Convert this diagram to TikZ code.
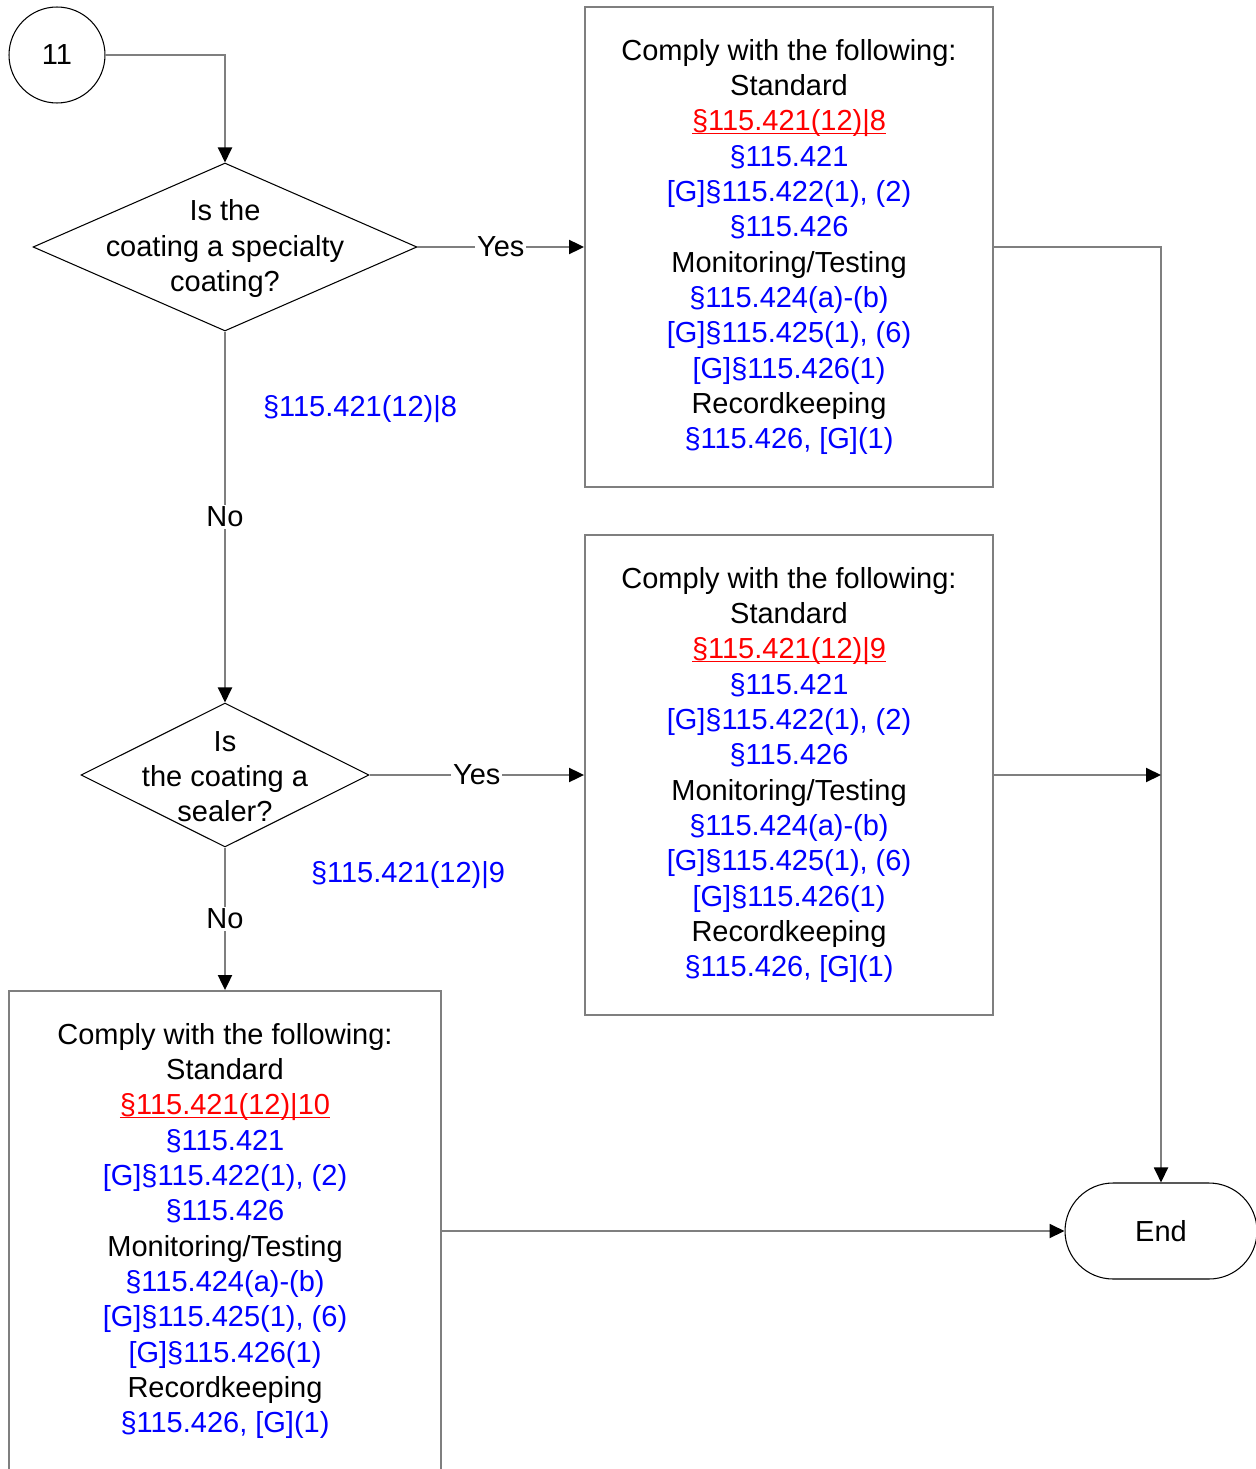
\documentclass[tikz,border=0pt]{standalone}
\usepackage{fontspec}
\setmainfont{Liberation Sans}
\usetikzlibrary{shapes,arrows.meta,positioning}
\definecolor{linegray}{HTML}{7F7F7F}
\definecolor{refblue}{HTML}{0000FF}
\definecolor{refred}{HTML}{FF0000}
\newcommand{\refb}[1]{\textcolor{refblue}{#1}}
\newcommand{\refr}[1]{\textcolor{refred}{\setbox0\hbox{#1}\rlap{\rule[-2pt]{\wd0}{0.9pt}}\box0}}
\newcommand{\stdlist}[1]{Comply with the following:\\Standard\\\refr{#1}\\\refb{§115.421}\\\refb{[G]§115.422(1), (2)}\\\refb{§115.426}\\Monitoring/Testing\\\refb{§115.424(a)-(b)}\\\refb{[G]§115.425(1), (6)}\\\refb{[G]§115.426(1)}\\Recordkeeping\\\refb{§115.426, [G](1)}}

\begin{document}
\begin{tikzpicture}[x=0.02cm,y=-0.02cm,
  every node/.style={font=\fontsize{16.5}{20.1}\selectfont},
  box/.style={rectangle,draw=linegray,line width=1.1pt,align=center,minimum height=9.6cm},
  decision/.style={diamond,draw,line width=0.6pt,inner sep=0pt},
  conn/.style={draw=linegray,line width=1.1pt,-{Triangle[length=0.3cm,width=0.28cm,color=black]}},
  lbl/.style={fill=white,inner sep=1pt}]
\useasboundingbox (0,0) rectangle (1255,1469);

\node[circle,draw,line width=0.6pt,minimum size=1.92cm] at (57,55) (start) {11};
\node[decision,minimum width=7.68cm,minimum height=3.36cm,label={[align=center,yshift=-1pt]center:{Is the\\coating a specialty\\coating?}}] at (225,247) (q1) {};
\node[decision,minimum width=5.76cm,minimum height=2.88cm,label={[align=center,yshift=-1pt]center:{Is\\the coating a\\sealer?}}] at (225,775) (q2) {};
\node[box,minimum width=8.16cm] at (789,247) (std1) {\stdlist{§115.421(12)|8}};
\node[box,minimum width=8.16cm] at (789,775) (std2) {\stdlist{§115.421(12)|9}};
\node[box,minimum width=8.64cm] at (225,1231) (std3) {\stdlist{§115.421(12)|10}};
\node[rectangle,rounded corners=0.96cm,draw,line width=0.6pt,minimum width=3.84cm,minimum height=1.92cm] at (1161,1231) (end) {End};
\node[text=refblue] at (360,409) (cite1) {§115.421(12)|8};
\node[text=refblue] at (408,875) (cite2) {§115.421(12)|9};
\coordinate (join) at (std2.east -| end.north);

\draw[conn] (start.east) -| (q1.north);
\draw[conn] (q1.east) -- node[lbl]{Yes} (std1.west);
\draw[conn] (q1.south) -- node[lbl]{No} (q2.north);
\draw[conn] (q2.east) -- node[lbl]{Yes} (std2.west);
\draw[conn] (q2.south) -- node[lbl]{No} (std3.north);
\draw[conn] (std1.east) -| (end.north);
\draw[conn] (std2.east) -- (join);
\draw[conn] (std3.east) -- (end.west);
\end{tikzpicture}
\end{document}
